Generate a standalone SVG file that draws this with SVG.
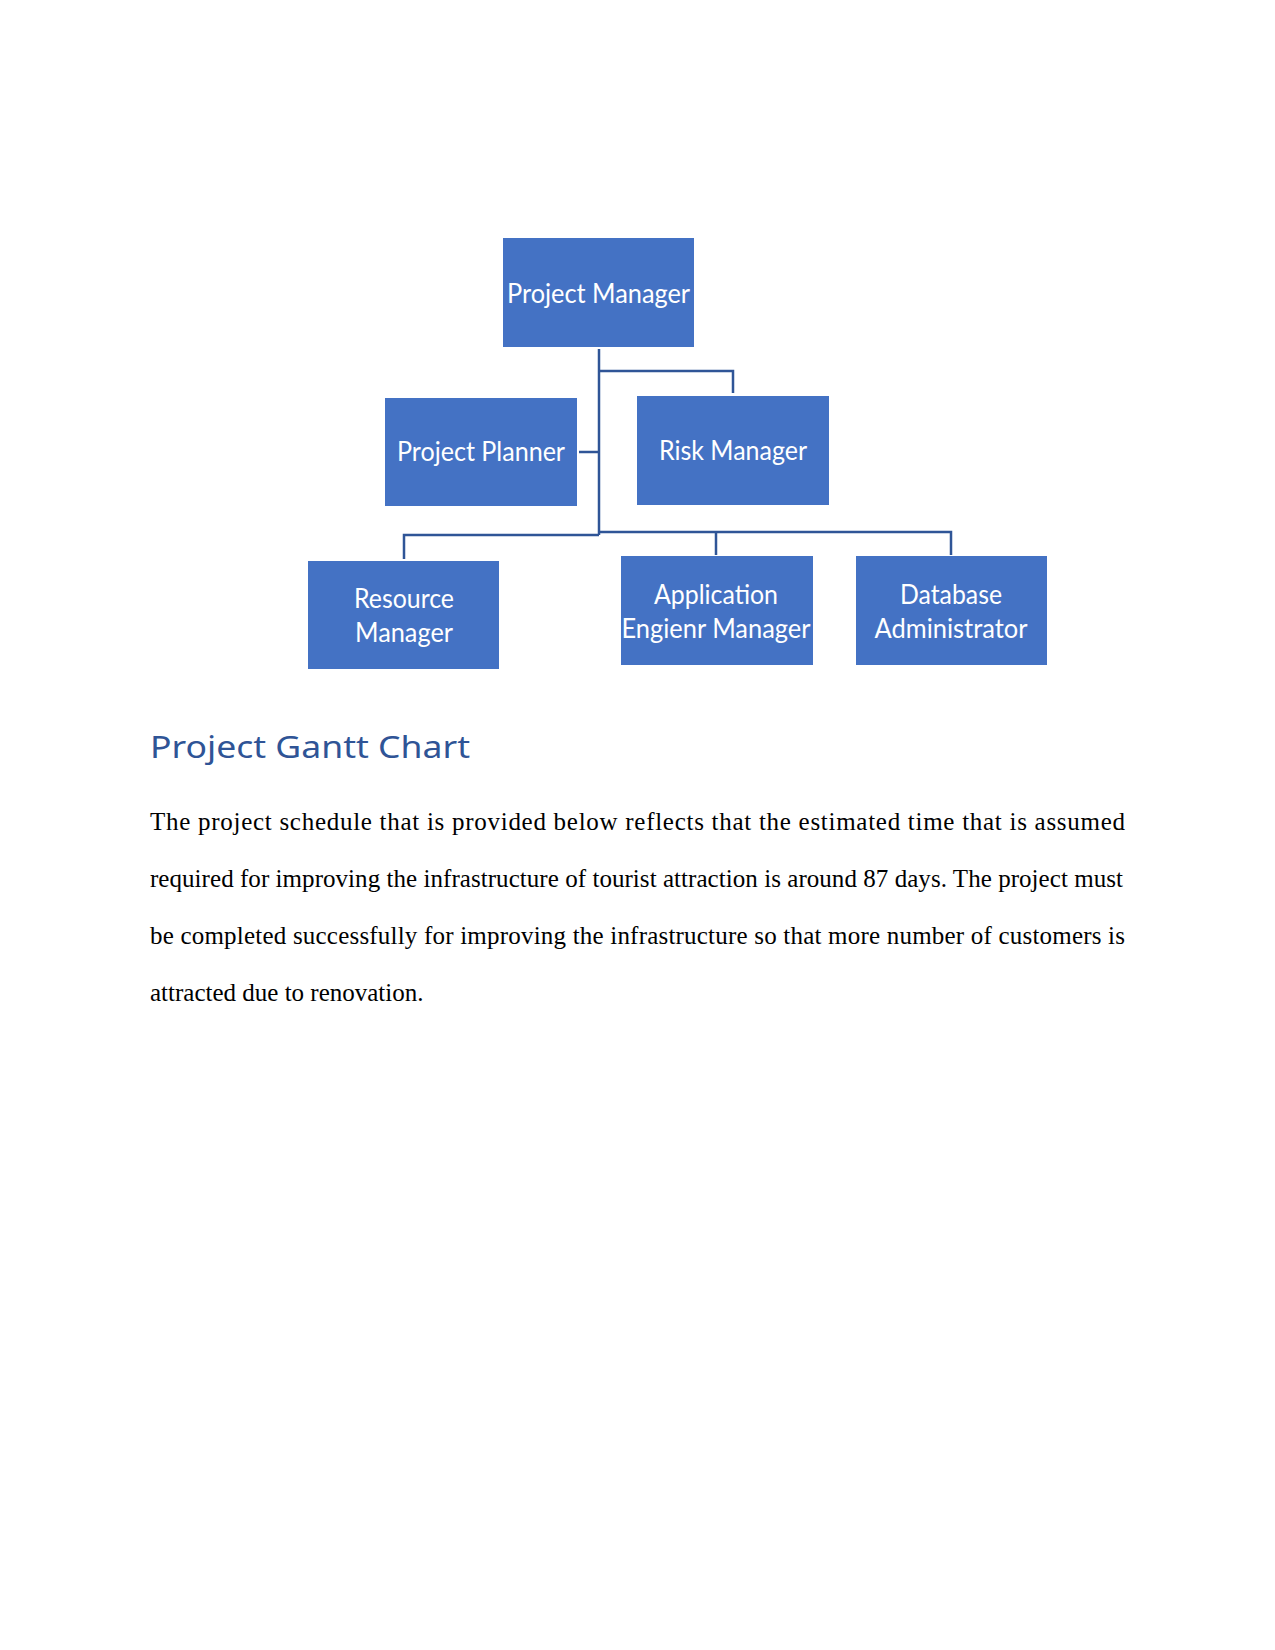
<svg xmlns="http://www.w3.org/2000/svg" width="1275" height="1650" viewBox="0 0 1275 1650">
<style>
.box{fill:#4472C4;}
.lbl{font-family:Lato,"Open Sans","Liberation Sans",sans-serif;font-size:26px;fill:#FFFFFF;text-anchor:middle;}
.conn{fill:none;stroke:#2F5597;stroke-width:2.5;}
.head{font-family:"Noto Sans","Open Sans",sans-serif;font-size:31px;fill:#2F5496;}
.body{font-family:"Liberation Serif","Times New Roman",serif;font-size:25px;fill:#000000;}
</style>
<rect width="1275" height="1650" fill="#FFFFFF"/>
<g id="connectors">
<polyline class="conn" points="599,349 599,535"/>
<polyline class="conn" points="599,371 733,371 733,393"/>
<polyline class="conn" points="579,452 599,452"/>
<polyline class="conn" points="599,535 404,535 404,559"/>
<polyline class="conn" points="599,532 951,532 951,555"/>
<polyline class="conn" points="716,532 716,555"/>
</g>
<g id="project-manager">
<rect class="box" x="503" y="238" width="191" height="109"/>
<text class="lbl" x="598.5" y="303" textLength="183" lengthAdjust="spacingAndGlyphs">Project Manager</text>
</g>
<g id="project-planner">
<rect class="box" x="385" y="398" width="192" height="108"/>
<text class="lbl" x="481" y="461" textLength="168" lengthAdjust="spacingAndGlyphs">Project Planner</text>
</g>
<g id="risk-manager">
<rect class="box" x="637" y="396" width="192" height="109"/>
<text class="lbl" x="733" y="460" textLength="148" lengthAdjust="spacingAndGlyphs">Risk Manager</text>
</g>
<g id="resource-manager">
<rect class="box" x="308" y="561" width="191" height="108"/>
<text class="lbl" x="404" y="608" textLength="100" lengthAdjust="spacingAndGlyphs">Resource</text>
<text class="lbl" x="404" y="642" textLength="98" lengthAdjust="spacingAndGlyphs">Manager</text>
</g>
<g id="application-engineer-manager">
<rect class="box" x="621" y="556" width="192" height="109"/>
<text class="lbl" x="716" y="604" textLength="124" lengthAdjust="spacingAndGlyphs">Application</text>
<text class="lbl" x="716" y="638" textLength="189" lengthAdjust="spacingAndGlyphs">Engienr Manager</text>
</g>
<g id="database-administrator">
<rect class="box" x="856" y="556" width="191" height="109"/>
<text class="lbl" x="951" y="604" textLength="102" lengthAdjust="spacingAndGlyphs">Database</text>
<text class="lbl" x="951" y="638" textLength="153" lengthAdjust="spacingAndGlyphs">Administrator</text>
</g>
<text class="head" x="150" y="758" textLength="320" lengthAdjust="spacingAndGlyphs">Project Gantt Chart</text>
<text class="body" x="150" y="830" textLength="975" lengthAdjust="spacing">The project schedule that is provided below reflects that the estimated time that is assumed</text>
<text class="body" x="150" y="887" textLength="973" lengthAdjust="spacing">required for improving the infrastructure of tourist attraction is around 87 days. The project must</text>
<text class="body" x="150" y="944" textLength="975" lengthAdjust="spacing">be completed successfully for improving the infrastructure so that more number of customers is</text>
<text class="body" x="150" y="1001">attracted due to renovation.</text>
</svg>
